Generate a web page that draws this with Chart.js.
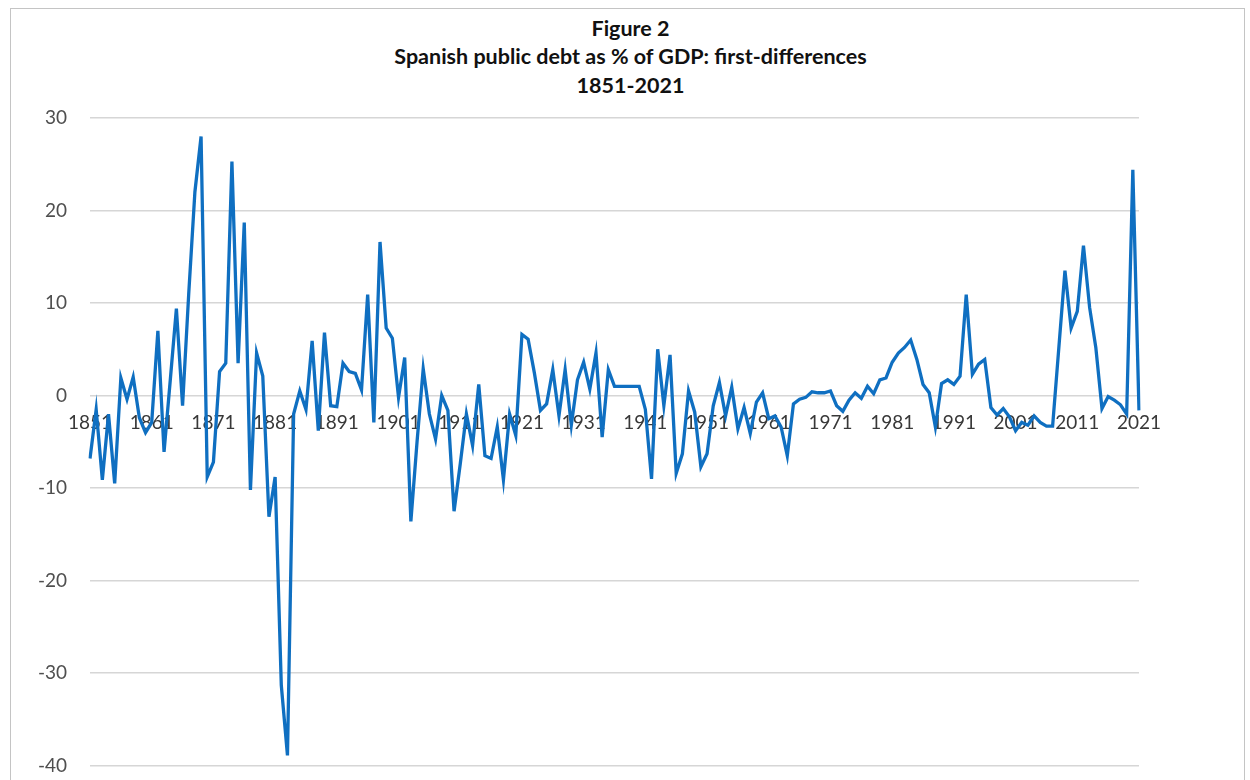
<!DOCTYPE html>
<html>
<head>
<meta charset="utf-8">
<script src="https://cdn.jsdelivr.net/npm/chart.js@4.4.1/dist/chart.umd.min.js"></script>
<style>
  html, body { margin: 0; padding: 0; background: #fff; overflow: hidden; }
  #frame {
    position: absolute; left: 10px; top: 8px; width: 1233px; height: 800px;
    border: 1.5px solid #c4c4c4; border-bottom: none;
  }
  #title {
    position: absolute; left: 14px; top: 0; width: 1233px; padding-top: 14px;
    text-align: center; font: bold 21.5px Lato, 'Open Sans', sans-serif;
    line-height: 28.3px; color: #111;
  }
  #chart { position: absolute; left: 0; top: 0; }
</style>
</head>
<body>
<div id="frame"></div>
<div id="title">Figure 2<br>Spanish public debt as % of GDP: first-differences<br>1851-2021</div>
<canvas id="chart" width="1250" height="800"></canvas>
<script>
/* Spanish public debt, % of GDP, first differences 1851-2021 */

const FIRST_YEAR = 1851;
const LAST_YEAR = 2021;
const YEARS = [];
for (let y = FIRST_YEAR; y <= LAST_YEAR; y++) YEARS.push(String(y));

// shown x labels (every ten years)
const X_TICKS = ['1851', '1861', '1871', '1881', '1891', '1901', '1911', '1921', '1931',
  '1941', '1951', '1961', '1971', '1981', '1991', '2001', '2011', '2021'];

// y axis ticks
const Y_MIN = -40;
const Y_MAX = 30;
const Y_STEP = 10;

// first-differences, one per year
const DEBT_DIFF = [
  // 1851-1860
  -6.8, -1.5, -9.1, -2.0, -9.5, 1.9, -0.4, 2.0, -2.4, -4.0,
  // 1861-1870
  -2.9, 7.0, -6.1, 1.6, 9.4, -1.1, 11.0, 22.0, 28.0, -8.8,
  // 1871-1880
  -7.2, 2.6, 3.5, 25.3, 3.5, 18.7, -10.2, 4.6, 2.1, -13.1,
  // 1881-1890
  -8.8, -31.3, -38.9, -2.0, 0.5, -1.5, 5.9, -3.8, 6.8, -1.1,
  // 1891-1900
  -1.2, 3.5, 2.6, 2.4, 0.6, 10.9, -2.9, 16.6, 7.3, 6.2,
  // 1901-1910
  -0.2, 4.1, -13.6, -5.0, 2.9, -2.0, -4.7, 0.0, -1.6, -12.5,
  // 1911-1920
  -7.4, -2.0, -5.4, 1.2, -6.5, -6.8, -3.4, -9.1, -2.0, -4.3,
  // 1921-1930
  6.6, 6.1, 2.5, -1.6, -0.9, 2.8, -2.2, 2.8, -3.2, 1.7,
  // 1931-1940
  3.6, 0.7, 4.6, -4.5, 2.8, 1.0, 1.0, 1.0, 1.0, 1.0,
  // 1941-1950
  -1.5, -9.0, 5.0, -1.1, 4.4, -8.4, -6.3, 0.5, -1.8, -7.7,
  // 1951-1960
  -6.3, -1.1, 1.4, -2.2, 0.9, -3.6, -1.3, -4.1, -0.7, 0.3,
  // 1961-1970
  -2.5, -2.2, -3.4, -6.5, -0.9, -0.4, -0.2, 0.4, 0.3, 0.3,
  // 1971-1980
  0.5, -1.1, -1.7, -0.5, 0.3, -0.3, 1.0, 0.2, 1.7, 1.9,
  // 1981-1990
  3.6, 4.6, 5.2, 6.0, 3.9, 1.2, 0.3, -3.4, 1.3, 1.7,
  // 1991-2000
  1.2, 2.1, 10.9, 2.3, 3.4, 3.9, -1.3, -2.1, -1.4, -2.3,
  // 2001-2010
  -3.8, -2.9, -3.2, -2.2, -2.9, -3.3, -3.3, 5.1, 13.5, 7.3,
  // 2011-2020
  9.1, 16.2, 9.5, 5.2, -1.4, -0.1, -0.5, -1.0, -2.0, 24.4,
  // 2021
  -1.6
];

const ctx = document.getElementById('chart').getContext('2d');
new Chart(ctx, {
  type: 'line',
  data: {
    labels: YEARS,
    datasets: [{
      label: 'Debt first-difference',
      data: DEBT_DIFF,
      borderColor: '#0f6fc1',
      borderWidth: 3.3,
      pointRadius: 0,
      tension: 0,
      fill: false,
    }]
  },
  options: {
    responsive: false,
    animation: false,
    layout: { padding: { top: 118, left: 0, right: 111, bottom: 29 } },
    plugins: {
      legend: { display: false },
      title: { display: false },
      tooltip: { enabled: false }
    },
    scales: {
      x: {
        type: 'category',
        position: { y: 0 },
        offset: false,
        grid: { display: false, drawTicks: false },
        border: { display: false },
        ticks: {
          autoSkip: false,
          maxRotation: 0,
          minRotation: 0,
          padding: 16,
          color: '#383838',
          font: { family: "Lato, 'Open Sans', sans-serif", size: 19 },
          callback: function (v, i) {
            const lab = YEARS[i];
            return X_TICKS.includes(lab) ? lab : null;
          }
        }
      },
      y: {
        min: Y_MIN,
        max: Y_MAX,
        afterFit: s => { s.width = 90; },
        grid: { color: '#d6d6d6', lineWidth: 1.4, drawTicks: false },
        border: { display: false },
        ticks: {
          stepSize: Y_STEP,
          padding: 23,
          color: '#4f4f4f',
          font: { family: "Lato, 'Open Sans', sans-serif", size: 19 }
        }
      }
    }
  }
});
</script>
</body>
</html>
